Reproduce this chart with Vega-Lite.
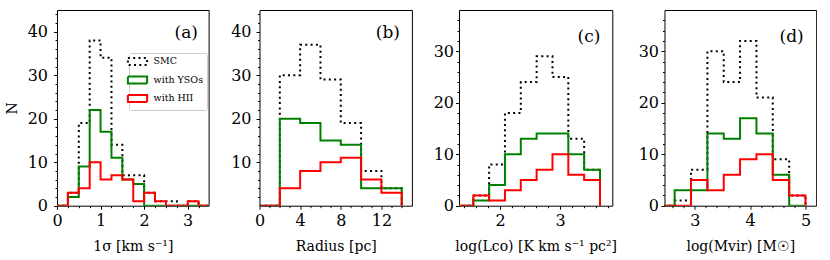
{
  "$schema": "https://vega.github.io/schema/vega-lite/v6.json",
  "padding": {"left": 4, "top": 5, "right": 0, "bottom": 0},
  "background": "white",
  "spacing": 19.5,
  "data": {"values": [
    {"p":"a","s":"SMC","x":0,"n":0},{"p":"a","s":"SMC","x":0.25,"n":3},{"p":"a","s":"SMC","x":0.5,"n":19},{"p":"a","s":"SMC","x":0.75,"n":38},{"p":"a","s":"SMC","x":1.0,"n":34},{"p":"a","s":"SMC","x":1.25,"n":14},{"p":"a","s":"SMC","x":1.5,"n":7},{"p":"a","s":"SMC","x":1.75,"n":7},{"p":"a","s":"SMC","x":2.0,"n":3},{"p":"a","s":"SMC","x":2.25,"n":1},{"p":"a","s":"SMC","x":2.5,"n":1},{"p":"a","s":"SMC","x":2.75,"n":0},{"p":"a","s":"SMC","x":3.0,"n":1},{"p":"a","s":"SMC","x":3.25,"n":0},{"p":"a","s":"SMC","x":3.5,"n":0},
    {"p":"a","s":"with YSOs","x":0,"n":0},{"p":"a","s":"with YSOs","x":0.25,"n":2},{"p":"a","s":"with YSOs","x":0.5,"n":9},{"p":"a","s":"with YSOs","x":0.75,"n":22},{"p":"a","s":"with YSOs","x":1.0,"n":17},{"p":"a","s":"with YSOs","x":1.25,"n":11},{"p":"a","s":"with YSOs","x":1.5,"n":6},{"p":"a","s":"with YSOs","x":1.75,"n":5},{"p":"a","s":"with YSOs","x":2.0,"n":0},{"p":"a","s":"with YSOs","x":2.25,"n":0},{"p":"a","s":"with YSOs","x":2.5,"n":0},{"p":"a","s":"with YSOs","x":2.75,"n":0},{"p":"a","s":"with YSOs","x":3.0,"n":0},{"p":"a","s":"with YSOs","x":3.25,"n":0},{"p":"a","s":"with YSOs","x":3.5,"n":0},
    {"p":"a","s":"with HII","x":0,"n":0},{"p":"a","s":"with HII","x":0.25,"n":3},{"p":"a","s":"with HII","x":0.5,"n":4},{"p":"a","s":"with HII","x":0.75,"n":10},{"p":"a","s":"with HII","x":1.0,"n":6},{"p":"a","s":"with HII","x":1.25,"n":7},{"p":"a","s":"with HII","x":1.5,"n":6},{"p":"a","s":"with HII","x":1.75,"n":1},{"p":"a","s":"with HII","x":2.0,"n":3},{"p":"a","s":"with HII","x":2.25,"n":1},{"p":"a","s":"with HII","x":2.5,"n":0},{"p":"a","s":"with HII","x":2.75,"n":0},{"p":"a","s":"with HII","x":3.0,"n":1},{"p":"a","s":"with HII","x":3.25,"n":0},{"p":"a","s":"with HII","x":3.5,"n":0},

    {"p":"b","s":"SMC","x":0,"n":0},{"p":"b","s":"SMC","x":2,"n":30},{"p":"b","s":"SMC","x":4,"n":37},{"p":"b","s":"SMC","x":6,"n":29},{"p":"b","s":"SMC","x":8,"n":19},{"p":"b","s":"SMC","x":10,"n":8},{"p":"b","s":"SMC","x":12,"n":4},{"p":"b","s":"SMC","x":14,"n":0},
    {"p":"b","s":"with YSOs","x":0,"n":0},{"p":"b","s":"with YSOs","x":2,"n":20},{"p":"b","s":"with YSOs","x":4,"n":19},{"p":"b","s":"with YSOs","x":6,"n":15},{"p":"b","s":"with YSOs","x":8,"n":14},{"p":"b","s":"with YSOs","x":10,"n":4},{"p":"b","s":"with YSOs","x":12,"n":4},{"p":"b","s":"with YSOs","x":14,"n":0},
    {"p":"b","s":"with HII","x":0,"n":0},{"p":"b","s":"with HII","x":2,"n":4},{"p":"b","s":"with HII","x":4,"n":8},{"p":"b","s":"with HII","x":6,"n":10},{"p":"b","s":"with HII","x":8,"n":11},{"p":"b","s":"with HII","x":10,"n":6},{"p":"b","s":"with HII","x":12,"n":3},{"p":"b","s":"with HII","x":14,"n":0},

    {"p":"c","s":"SMC","x":1.291,"n":0},{"p":"c","s":"SMC","x":1.555,"n":2},{"p":"c","s":"SMC","x":1.819,"n":8},{"p":"c","s":"SMC","x":2.083,"n":18},{"p":"c","s":"SMC","x":2.347,"n":24},{"p":"c","s":"SMC","x":2.611,"n":29},{"p":"c","s":"SMC","x":2.875,"n":25},{"p":"c","s":"SMC","x":3.139,"n":13},{"p":"c","s":"SMC","x":3.403,"n":7},{"p":"c","s":"SMC","x":3.667,"n":0},
    {"p":"c","s":"with YSOs","x":1.291,"n":0},{"p":"c","s":"with YSOs","x":1.555,"n":1},{"p":"c","s":"with YSOs","x":1.819,"n":4},{"p":"c","s":"with YSOs","x":2.083,"n":10},{"p":"c","s":"with YSOs","x":2.347,"n":13},{"p":"c","s":"with YSOs","x":2.611,"n":14},{"p":"c","s":"with YSOs","x":2.875,"n":14},{"p":"c","s":"with YSOs","x":3.139,"n":10},{"p":"c","s":"with YSOs","x":3.403,"n":7},{"p":"c","s":"with YSOs","x":3.667,"n":0},
    {"p":"c","s":"with HII","x":1.291,"n":0},{"p":"c","s":"with HII","x":1.555,"n":2},{"p":"c","s":"with HII","x":1.819,"n":1},{"p":"c","s":"with HII","x":2.083,"n":3},{"p":"c","s":"with HII","x":2.347,"n":5},{"p":"c","s":"with HII","x":2.611,"n":7},{"p":"c","s":"with HII","x":2.875,"n":10},{"p":"c","s":"with HII","x":3.139,"n":6},{"p":"c","s":"with HII","x":3.403,"n":5},{"p":"c","s":"with HII","x":3.667,"n":0},

    {"p":"d","s":"SMC","x":2.341,"n":0},{"p":"d","s":"SMC","x":2.637,"n":1},{"p":"d","s":"SMC","x":2.932,"n":7},{"p":"d","s":"SMC","x":3.228,"n":30},{"p":"d","s":"SMC","x":3.523,"n":24},{"p":"d","s":"SMC","x":3.818,"n":32},{"p":"d","s":"SMC","x":4.114,"n":21},{"p":"d","s":"SMC","x":4.409,"n":9},{"p":"d","s":"SMC","x":4.705,"n":2},{"p":"d","s":"SMC","x":5.0,"n":0},
    {"p":"d","s":"with YSOs","x":2.341,"n":0},{"p":"d","s":"with YSOs","x":2.637,"n":3},{"p":"d","s":"with YSOs","x":2.932,"n":3},{"p":"d","s":"with YSOs","x":3.228,"n":14},{"p":"d","s":"with YSOs","x":3.523,"n":13},{"p":"d","s":"with YSOs","x":3.818,"n":17},{"p":"d","s":"with YSOs","x":4.114,"n":14},{"p":"d","s":"with YSOs","x":4.409,"n":6},{"p":"d","s":"with YSOs","x":4.705,"n":0},{"p":"d","s":"with YSOs","x":5.0,"n":0},
    {"p":"d","s":"with HII","x":2.341,"n":0},{"p":"d","s":"with HII","x":2.637,"n":0},{"p":"d","s":"with HII","x":2.932,"n":5},{"p":"d","s":"with HII","x":3.228,"n":3},{"p":"d","s":"with HII","x":3.523,"n":6},{"p":"d","s":"with HII","x":3.818,"n":9},{"p":"d","s":"with HII","x":4.114,"n":10},{"p":"d","s":"with HII","x":4.409,"n":5},{"p":"d","s":"with HII","x":4.705,"n":2},{"p":"d","s":"with HII","x":5.0,"n":0}
  ]},
  "resolve": {"scale": {"color": "independent", "strokeDash": "independent"}},
  "hconcat": [
    {
      "width": 151.6, "height": 195.7,
      "transform": [{"filter": {"field": "p", "equal": "a"}}],
      "title": {"text": "(a)", "anchor": "end", "frame": "group", "offset": -36, "dx": -10.6},
      "mark": {"type": "line", "interpolate": "step-after", "strokeWidth": 2, "clip": true},
      "encoding": {
        "x": {"field": "x", "type": "quantitative", "scale": {"domain": [0, 3.48], "nice": false, "zero": false},
              "axis": {"title": "1σ [km s⁻¹]", "values": [0,0.25,0.5,0.75,1,1.25,1.5,1.75,2,2.25,2.5,2.75,3,3.25],
                       "labelExpr": "abs(datum.value - round(datum.value)) < 0.001 ? format(datum.value, 'd') : ''",
                       "tickSize": {"condition": {"test": "abs(datum.value - round(datum.value)) < 0.001", "value": 3.5}, "value": 2}}},
        "y": {"field": "n", "type": "quantitative", "scale": {"domain": [0, 45], "nice": false},
              "axis": {"title": "N", "labelPadding": 6, "values": [0,2,4,6,8,10,12,14,16,18,20,22,24,26,28,30,32,34,36,38,40,42,44],
                       "labelExpr": "datum.value % 10 === 0 ? format(datum.value, 'd') : ''",
                       "tickSize": {"condition": {"test": "datum.value % 10 === 0", "value": 3.5}, "value": 2}}},
        "color": {"field": "s", "type": "nominal", "scale": {"domain": ["SMC", "with YSOs", "with HII"], "range": ["#000000", "#008000", "#ff0000"]},
                  "legend": {"orient": "none", "legendX": 72, "legendY": 43, "title": null,
                             "symbolType": "M-2.4,-0.85H2.4V0.85H-2.4Z", "symbolSize": 64, "symbolStrokeWidth": 2, "symbolFillColor": "white",
                             "labelFont": "DejaVu Serif", "labelFontSize": 9.5, "labelColor": "#000000", "labelOffset": 11, "rowPadding": 2.5, "padding": 3.5,
                             "strokeColor": "#cccccc", "fillColor": "white", "cornerRadius": 2}},
        "strokeDash": {"field": "s", "type": "nominal", "scale": {"domain": ["SMC", "with YSOs", "with HII"], "range": [[2, 3.3], [1, 0], [1, 0]]},
                  "legend": {"orient": "none", "legendX": 72, "legendY": 43, "title": null,
                             "symbolType": "M-2.4,-0.85H2.4V0.85H-2.4Z", "symbolSize": 64, "symbolStrokeWidth": 2, "symbolFillColor": "white",
                             "labelFont": "DejaVu Serif", "labelFontSize": 9.5, "labelColor": "#000000", "labelOffset": 11, "rowPadding": 2.5, "padding": 3.5,
                             "strokeColor": "#cccccc", "fillColor": "white", "cornerRadius": 2}}
      }
    },
    {
      "width": 152.4, "height": 195.7,
      "transform": [{"filter": {"field": "p", "equal": "b"}}],
      "title": {"text": "(b)", "anchor": "end", "frame": "group", "offset": -36, "dx": -12},
      "mark": {"type": "line", "interpolate": "step-after", "strokeWidth": 2, "clip": true},
      "encoding": {
        "x": {"field": "x", "type": "quantitative", "scale": {"domain": [0, 15], "nice": false, "zero": false},
              "axis": {"title": "Radius [pc]", "values": [0,1,2,3,4,5,6,7,8,9,10,11,12,13,14],
                       "labelExpr": "datum.value % 4 === 0 ? format(datum.value, 'd') : ''",
                       "tickSize": {"condition": {"test": "datum.value % 4 === 0", "value": 3.5}, "value": 2}}},
        "y": {"field": "n", "type": "quantitative", "scale": {"domain": [0, 45], "nice": false},
              "axis": {"title": null, "labelPadding": 5, "values": [2,4,6,8,10,12,14,16,18,20,22,24,26,28,30,32,34,36,38,40,42,44],
                       "labelExpr": "datum.value % 10 === 0 ? format(datum.value, 'd') : ''",
                       "tickSize": {"condition": {"test": "datum.value % 10 === 0", "value": 3.5}, "value": 2}}},
        "color": {"field": "s", "type": "nominal", "scale": {"domain": ["SMC", "with YSOs", "with HII"], "range": ["#000000", "#008000", "#ff0000"]}, "legend": null},
        "strokeDash": {"field": "s", "type": "nominal", "scale": {"domain": ["SMC", "with YSOs", "with HII"], "range": [[2, 3.3], [1, 0], [1, 0]]}, "legend": null}
      }
    },
    {
      "width": 153.3, "height": 195.7,
      "transform": [{"filter": {"field": "p", "equal": "c"}}],
      "title": {"text": "(c)", "anchor": "end", "frame": "group", "offset": -36, "dx": -12},
      "mark": {"type": "line", "interpolate": "step-after", "strokeWidth": 2, "clip": true},
      "encoding": {
        "x": {"field": "x", "type": "quantitative", "scale": {"domain": [1.317, 3.872], "nice": false, "zero": false},
              "axis": {"title": "log(Lco) [K km s⁻¹ pc²]", "values": [1.4,1.6,1.8,2,2.2,2.4,2.6,2.8,3,3.2,3.4,3.6,3.8],
                       "labelExpr": "abs(datum.value - round(datum.value)) < 0.001 ? format(datum.value, 'd') : ''",
                       "tickSize": {"condition": {"test": "abs(datum.value - round(datum.value)) < 0.001", "value": 3.5}, "value": 2}}},
        "y": {"field": "n", "type": "quantitative", "scale": {"domain": [0, 38], "nice": false},
              "axis": {"title": null, "labelPadding": 2, "values": [0,2,4,6,8,10,12,14,16,18,20,22,24,26,28,30,32,34,36],
                       "labelExpr": "datum.value % 10 === 0 ? format(datum.value, 'd') : ''",
                       "tickSize": {"condition": {"test": "datum.value % 10 === 0", "value": 3.5}, "value": 2}}},
        "color": {"field": "s", "type": "nominal", "scale": {"domain": ["SMC", "with YSOs", "with HII"], "range": ["#000000", "#008000", "#ff0000"]}, "legend": null},
        "strokeDash": {"field": "s", "type": "nominal", "scale": {"domain": ["SMC", "with YSOs", "with HII"], "range": [[2, 3.3], [1, 0], [1, 0]]}, "legend": null}
      }
    },
    {
      "width": 151.7, "height": 195.7,
      "transform": [{"filter": {"field": "p", "equal": "d"}}],
      "title": {"text": "(d)", "anchor": "end", "frame": "group", "offset": -36, "dx": -12.5},
      "mark": {"type": "line", "interpolate": "step-after", "strokeWidth": 2, "clip": true},
      "encoding": {
        "x": {"field": "x", "type": "quantitative", "scale": {"domain": [2.453, 5.193], "nice": false, "zero": false},
              "axis": {"title": "log(Mvir) [M☉]", "values": [2.6,2.8,3,3.2,3.4,3.6,3.8,4,4.2,4.4,4.6,4.8,5],
                       "labelExpr": "abs(datum.value - round(datum.value)) < 0.001 ? format(datum.value, 'd') : ''",
                       "tickSize": {"condition": {"test": "abs(datum.value - round(datum.value)) < 0.001", "value": 3.5}, "value": 2}}},
        "y": {"field": "n", "type": "quantitative", "scale": {"domain": [0, 38], "nice": false},
              "axis": {"title": null, "labelPadding": 2.5, "values": [0,2,4,6,8,10,12,14,16,18,20,22,24,26,28,30,32,34,36],
                       "labelExpr": "datum.value % 10 === 0 ? format(datum.value, 'd') : ''",
                       "tickSize": {"condition": {"test": "datum.value % 10 === 0", "value": 3.5}, "value": 2}}},
        "color": {"field": "s", "type": "nominal", "scale": {"domain": ["SMC", "with YSOs", "with HII"], "range": ["#000000", "#008000", "#ff0000"]}, "legend": null},
        "strokeDash": {"field": "s", "type": "nominal", "scale": {"domain": ["SMC", "with YSOs", "with HII"], "range": [[2, 3.3], [1, 0], [1, 0]]}, "legend": null}
      }
    }
  ],
  "config": {
    "font": "DejaVu Serif",
    "view": {"stroke": "#000000", "strokeWidth": 1},
    "title": {"font": "DejaVu Serif", "fontSize": 17, "fontWeight": "normal", "color": "#000000"},
    "axis": {
      "domain": false, "grid": false,
      "labelFont": "DejaVu Serif", "labelFontSize": 16, "labelColor": "#000000", "labelOverlap": false, "labelFlush": false,
      "tickColor": "#000000", "tickWidth": 1,
      "titleFont": "DejaVu Serif", "titleFontSize": 14, "titleFontWeight": "normal", "titleColor": "#000000"
    },
    "axisX": {"labelPadding": 3.5, "titlePadding": 11},
    "axisY": {"titlePadding": 8}
  }
}
